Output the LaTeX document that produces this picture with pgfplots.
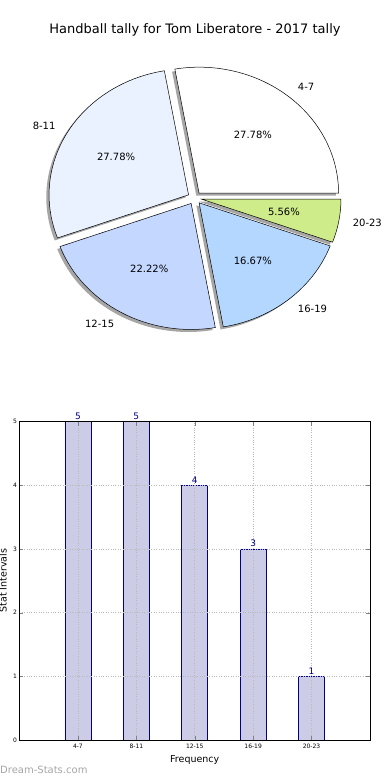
\documentclass[border=0pt]{standalone}
\usepackage{pgfplots}
\pgfplotsset{compat=1.18}
\usepackage{pgfplotstable}
\usepackage{fontspec}
\setmainfont{DejaVu Sans}
\definecolor{s1}{RGB}{255,255,255}
\definecolor{s2}{RGB}{235,242,255}
\definecolor{s3}{RGB}{196,215,255}
\definecolor{s4}{RGB}{180,215,255}
\definecolor{s5}{RGB}{207,236,138}
\definecolor{shadowc}{RGB}{77,77,77}
\definecolor{barfill}{RGB}{204,204,230}
\definecolor{baredge}{RGB}{0,0,139}
\definecolor{wmark}{RGB}{165,165,165}

\pgfplotstableread{
label value fill
4-7 5 s1
8-11 5 s2
12-15 4 s3
16-19 3 s4
20-23 1 s5
}\piedata

\pgfplotstableread{
x label value
0 4-7 5
1 8-11 5
2 12-15 4
3 16-19 3
4 20-23 1
}\bardata

\tikzset{
  piefont/.style={font=\fontsize{10}{12}\selectfont},
  shadowstyle/.style={fill=shadowc, fill opacity=0.5, draw=none},
  wedgestyle/.style={draw=black, line width=0.5pt},
}

\def\pcx{194.6}
\def\pcy{582}
\def\rx{139.5}
\def\ry{126}
\def\ex{0.05}

\begin{document}
\begin{tikzpicture}
\useasboundingbox (0,0) rectangle (390pt,780pt);
\begin{axis}[at={(0,0)}, anchor=south west, x=1pt, y=1pt, scale only axis,
  xmin=0, xmax=390, ymin=0, ymax=780, hide axis, clip=false]
  % total
  \def\total{0}
  \pgfplotsforeachungrouped \i in {0,...,4}{%
    \pgfplotstablegetelem{\i}{value}\of\piedata
    \pgfmathsetmacro\total{\total+\pgfplotsretval}%
  }
  % shadows
  \def\cum{0}
  \pgfplotsforeachungrouped \i in {0,...,4}{%
    \pgfplotstablegetelem{\i}{value}\of\piedata \let\pv\pgfplotsretval
    \pgfmathsetmacro\angA{\cum*360/\total}%
    \pgfmathsetmacro\angB{(\cum+\pv)*360/\total}%
    \pgfmathsetmacro\angM{(\angA+\angB)/2}%
    \pgfmathsetmacro\cx{\pcx+\ex*\rx*cos(\angM)-0.02*\rx}%
    \pgfmathsetmacro\cy{\pcy+\ex*\ry*sin(\angM)-0.02*\ry}%
    \pgfmathsetmacro\px{\cx+\rx*cos(\angA)}%
    \pgfmathsetmacro\py{\cy+\ry*sin(\angA)}%
    \edef\temp{\noexpand\fill[shadowstyle] (axis cs:\cx,\cy) -- (axis cs:\px,\py) arc[start angle=\angA, end angle=\angB, x radius=\rx pt, y radius=\ry pt] -- cycle;}%
    \temp
    \pgfmathsetmacro\cum{\cum+\pv}%
  }
  % wedges and labels
  \def\cum{0}
  \pgfplotsforeachungrouped \i in {0,...,4}{%
    \pgfplotstablegetelem{\i}{value}\of\piedata \let\pv\pgfplotsretval
    \pgfplotstablegetelem{\i}{label}\of\piedata \let\plab\pgfplotsretval
    \pgfplotstablegetelem{\i}{fill}\of\piedata \let\pcol\pgfplotsretval
    \pgfmathsetmacro\angA{\cum*360/\total}%
    \pgfmathsetmacro\angB{(\cum+\pv)*360/\total}%
    \pgfmathsetmacro\angM{(\angA+\angB)/2}%
    \pgfmathsetmacro\cx{\pcx+\ex*\rx*cos(\angM)}%
    \pgfmathsetmacro\cy{\pcy+\ex*\ry*sin(\angM)}%
    \pgfmathsetmacro\px{\cx+\rx*cos(\angA)}%
    \pgfmathsetmacro\py{\cy+\ry*sin(\angA)}%
    \pgfmathsetmacro\lx{\cx+1.1*\rx*cos(\angM)}%
    \pgfmathsetmacro\ly{\cy+1.1*\ry*sin(\angM)}%
    \pgfmathsetmacro\tx{\cx+0.6*\rx*cos(\angM)}%
    \pgfmathsetmacro\ty{\cy+0.6*\ry*sin(\angM)}%
    \pgfmathsetmacro\pct{100*\pv/\total}%
    \pgfmathtruncatemacro\isright{cos(\angM)>0}%
    \ifnum\isright=1 \def\anc{west}\else\def\anc{east}\fi
    \edef\temp{%
      \noexpand\filldraw[wedgestyle, fill=\pcol] (axis cs:\cx,\cy) -- (axis cs:\px,\py) arc[start angle=\angA, end angle=\angB, x radius=\rx pt, y radius=\ry pt] -- cycle;
      \noexpand\node[piefont, anchor=\anc, inner sep=0pt] at (axis cs:\lx,\ly) {\plab};
      \noexpand\node[piefont, anchor=center, inner sep=0pt] at (axis cs:\tx,\ty) {\noexpand\pgfmathprintnumber[fixed,precision=2,fixed zerofill,assume math mode=true]{\pct}\noexpand\%};
    }%
    \temp
    \pgfmathsetmacro\cum{\cum+\pv}%
  }
  \node[font=\fontsize{13}{15}\selectfont] at (axis cs:195,750) {Handball tally for Tom Liberatore - 2017 tally};
  \node[font=\fontsize{10}{12}\selectfont, text=wmark, anchor=west, inner sep=0pt] at (axis cs:0,10) {Dream-Stats.com};
\end{axis}
\begin{axis}[at={(19.5pt,40pt)}, anchor=south west, scale only axis,
  width=350.5pt, height=318.5pt,
  xmin=-1, xmax=5, ymin=0, ymax=5,
  ytick={0,1,2,3,4,5},
  xtick=data, xticklabels from table={\bardata}{label},
  tick align=inside, major tick length=4pt,
  axis on top=true,
  grid=major, major grid style={dotted, line width=0.6pt, color=gray!55},
  tick label style={font=\fontsize{6}{7}\selectfont},
  /pgf/number format/assume math mode=true,
  yticklabel style={xshift=1pt},
  xticklabel style={yshift=-1pt},
  xlabel={Frequency}, ylabel={Stat Intervals},
  label style={font=\fontsize{9.5}{11}\selectfont},
  xlabel style={at={(axis description cs:0.5,-0.063)}, anchor=center},
  ylabel style={at={(axis description cs:-0.047,0.5)}, anchor=center},
  axis line style={line width=0.6pt},
  clip=false]
  \addplot[ybar, bar width=26pt, fill=barfill, draw=baredge, line width=0.6pt,
    nodes near coords,
    every node near coord/.style={font=\fontsize{9}{10}\selectfont, text=baredge, inner sep=1.5pt}]
    table[x=x, y=value]{\bardata};
\end{axis}
\end{tikzpicture}
\end{document}
